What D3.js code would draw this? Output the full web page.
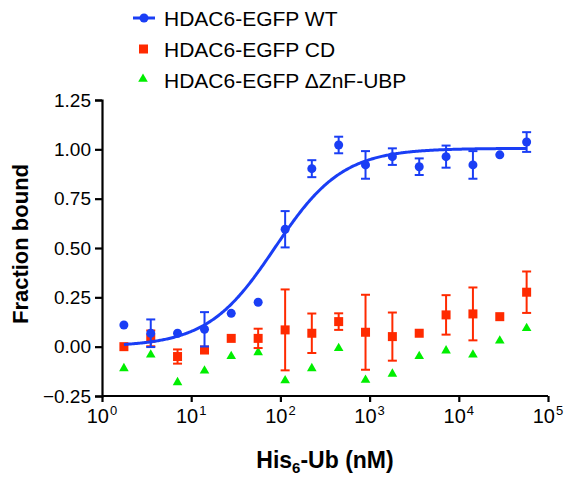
<!DOCTYPE html>
<html>
<head>
<meta charset="utf-8">
<script src="https://cdn.jsdelivr.net/npm/d3@7"></script>
<style>
  html, body { margin: 0; padding: 0; background: #fff; }
  svg { display: block; font-family: "Liberation Sans", Arial, sans-serif; }
</style>
</head>
<body>
<svg id="chart" width="565" height="477"></svg>
<script>
// ---- data ----
const concentrations = [1.76, 3.52, 7.03, 14.1, 28.1, 56.3, 113, 225, 450, 900, 1800, 3600, 7200, 14400, 28800, 57600];
const wtValues  = [0.110, 0.068, 0.068, 0.088, 0.169, 0.225, 0.595, 0.902, 1.022, 0.921, 0.963, 0.912, 0.963, 0.921, 0.972, 1.037];
const wtErrors  = [0, 0.070, 0, 0.087, 0, 0, 0.092, 0.043, 0.042, 0.070, 0.042, 0.042, 0.056, 0.070, 0, 0.050];
const cdValues  = [0.000, 0.042, -0.050, -0.017, 0.042, 0.042, 0.085, 0.068, 0.127, 0.073, 0.051, 0.068, 0.161, 0.166, 0.152, 0.276];
const cdErrors  = [0, 0.040, 0.036, 0, 0, 0.049, 0.205, 0.100, 0.042, 0.190, 0.122, 0, 0.100, 0.134, 0, 0.105];
const dznValues = [-0.115, -0.046, -0.186, -0.127, -0.054, -0.034, -0.177, -0.115, -0.013, -0.174, -0.143, -0.054, -0.025, -0.046, 0.025, 0.088];
// fitted sigmoid (WT): bottom, top, logEC50, Hill slope
const fitParams = { bottom: 0.0, top: 1.005, logEC50: 1.94, hill: 1.15 };
const xTickExponents = [0, 1, 2, 3, 4, 5];
const yTickValues = [-0.25, 0.00, 0.25, 0.50, 0.75, 1.00, 1.25];
const seriesNames = ["HDAC6-EGFP WT", "HDAC6-EGFP CD", "HDAC6-EGFP \u0394ZnF-UBP"];
const seriesColors = ["#1a3ef5", "#ff2a00", "#00ee00"];

// ---- chart ----
const svg = d3.select("#chart");
const x = d3.scaleLog().domain([1, 1e5]).range([102, 548]);
const y = d3.scaleLinear().domain([-0.25, 1.25]).range([396, 100]);

// axes
const yAxis = d3.axisLeft(y).tickValues(yTickValues).tickSize(7).tickPadding(4)
  .tickFormat(d3.format(".2f"));
const gy = svg.append("g").attr("transform", "translate(102,0)").call(yAxis);
gy.select(".domain").attr("stroke", "#000").attr("stroke-width", 2.2);
gy.selectAll(".tick line").attr("stroke", "#000").attr("stroke-width", 2.2);
gy.selectAll(".tick text").attr("font-size", 19).attr("fill", "#000")
  .attr("font-family", "Liberation Sans, Arial, sans-serif");

const xAxis = d3.axisBottom(x).tickValues(xTickExponents.map(e => Math.pow(10, e)))
  .tickSize(6).tickFormat("");
const gx = svg.append("g").attr("transform", "translate(0,396)").call(xAxis);
gx.select(".domain").attr("stroke", "#000").attr("stroke-width", 2.2);
gx.selectAll(".tick line").attr("stroke", "#000").attr("stroke-width", 2.2);
gx.selectAll(".domain").attr("d", `M${x(1)},0H${x(1e5)}`);

// x tick labels 10^n
xTickExponents.forEach(e => {
  const t = svg.append("text")
    .attr("x", x(Math.pow(10, e)))
    .attr("y", 423)
    .attr("text-anchor", "middle")
    .attr("font-size", 20)
    .attr("fill", "#000");
  t.append("tspan").text("10");
  t.append("tspan").attr("font-size", 13).attr("dy", -8).attr("dx", 1).text(String(e));
});

// axis titles
svg.append("text")
  .attr("transform", "translate(28,244) rotate(-90)")
  .attr("text-anchor", "middle")
  .attr("font-size", 22).attr("font-weight", "bold").attr("fill", "#000")
  .text("Fraction bound");

const xt = svg.append("text")
  .attr("x", 325).attr("y", 468)
  .attr("text-anchor", "middle")
  .attr("font-size", 23).attr("font-weight", "bold").attr("fill", "#000");
xt.append("tspan").text("His");
xt.append("tspan").attr("font-size", 15).attr("dy", 5).text("6");
xt.append("tspan").attr("dy", -5).text("-Ub (nM)");

// error bars helper
function errorBars(values, errors, color, width) {
  const g = svg.append("g").attr("stroke", color).attr("stroke-width", width).attr("fill", "none");
  concentrations.forEach((c, i) => {
    const e = errors[i];
    if (!e) return;
    const cx = x(c), y1 = y(values[i] + e), y2 = y(values[i] - e);
    g.append("line").attr("x1", cx).attr("x2", cx).attr("y1", y1).attr("y2", y2);
    g.append("line").attr("x1", cx - 4.5).attr("x2", cx + 4.5).attr("y1", y1).attr("y2", y1);
    g.append("line").attr("x1", cx - 4.5).attr("x2", cx + 4.5).attr("y1", y2).attr("y2", y2);
  });
}

const triangle = d3.symbol().type(d3.symbolTriangle).size(40);

// ΔZnF-UBP triangles
svg.append("g").selectAll("path").data(dznValues).join("path")
  .attr("d", triangle)
  .attr("transform", (d, i) => `translate(${x(concentrations[i])},${y(d) - 1})`)
  .attr("fill", seriesColors[2]);

// CD squares
errorBars(cdValues, cdErrors, seriesColors[1], 2);
svg.append("g").selectAll("rect").data(cdValues).join("rect")
  .attr("x", (d, i) => x(concentrations[i]) - 4.5)
  .attr("y", d => y(d) - 4.5)
  .attr("width", 9).attr("height", 9)
  .attr("fill", seriesColors[1]);

// WT fit curve
const fitX = d3.range(0, 401).map(k => {
  const lo = Math.log10(concentrations[0]), hi = Math.log10(concentrations[concentrations.length - 1]);
  return Math.pow(10, lo + (hi - lo) * k / 400);
});
const fitY = c => fitParams.bottom + (fitParams.top - fitParams.bottom) /
  (1 + Math.pow(10, (fitParams.logEC50 - Math.log10(c)) * fitParams.hill));
svg.append("path")
  .datum(fitX)
  .attr("d", d3.line().x(c => x(c)).y(c => y(fitY(c))))
  .attr("fill", "none").attr("stroke", seriesColors[0]).attr("stroke-width", 3);

// WT circles
errorBars(wtValues, wtErrors, seriesColors[0], 2);
svg.append("g").selectAll("circle").data(wtValues).join("circle")
  .attr("cx", (d, i) => x(concentrations[i]))
  .attr("cy", d => y(d))
  .attr("r", 4.5)
  .attr("fill", seriesColors[0]);

// legend
const legendY = [18, 49, 80];
const leg = svg.append("g");
leg.append("line").attr("x1", 133).attr("x2", 155).attr("y1", legendY[0]).attr("y2", legendY[0])
  .attr("stroke", seriesColors[0]).attr("stroke-width", 3);
leg.append("circle").attr("cx", 144).attr("cy", legendY[0]).attr("r", 4.5).attr("fill", seriesColors[0]);
leg.append("rect").attr("x", 139).attr("y", legendY[1] - 4.5).attr("width", 9).attr("height", 9)
  .attr("fill", seriesColors[1]);
leg.append("path").attr("d", triangle).attr("transform", `translate(143,${legendY[2] - 1})`)
  .attr("fill", seriesColors[2]);
seriesNames.forEach((n, i) => {
  leg.append("text").attr("x", 164).attr("y", legendY[i] + 7.5)
    .attr("font-size", 21).attr("fill", "#000").text(n);
});
</script>
</body>
</html>
